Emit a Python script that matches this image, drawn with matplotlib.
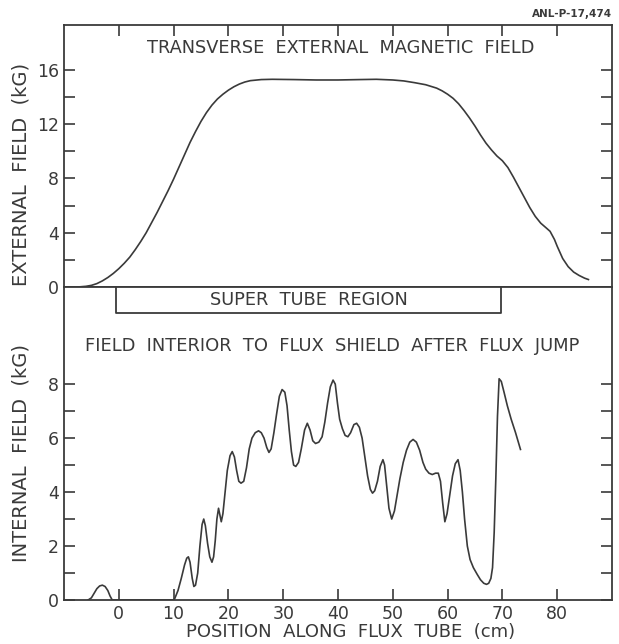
import matplotlib
matplotlib.use("Agg")
import matplotlib.pyplot as plt

plt.rcParams['font.family'] = ['DejaVu Sans']

# ---- data: external (transverse) magnetic field, kG vs position (cm)
ext_x = [-7.5, -6, -5, -4, -3, -2, -1, 0, 1, 2, 3, 4, 5, 6, 7, 8, 9, 10, 11, 12,
         13, 14, 15, 16, 17, 18, 19, 20, 21, 22, 23, 24, 26, 28, 32, 36, 40, 44,
         47, 50, 52, 54, 56, 58, 59, 60, 61, 62, 63, 64, 65, 66, 67, 68, 69, 70,
         71, 72, 73, 74, 75, 76, 77, 78, 78.7, 79.5, 80, 81, 82, 83, 84, 85, 85.7]
ext_y = [0, 0.05, 0.12, 0.25, 0.45, 0.7, 1.0, 1.35, 1.75, 2.2, 2.75, 3.35, 4.0,
         4.75, 5.5, 6.3, 7.1, 7.95, 8.85, 9.75, 10.65, 11.45, 12.2, 12.85, 13.4,
         13.85, 14.2, 14.5, 14.75, 14.95, 15.1, 15.2, 15.28, 15.3, 15.28, 15.25,
         15.25, 15.28, 15.3, 15.25, 15.18, 15.05, 14.9, 14.65, 14.45, 14.2, 13.9,
         13.5, 13.0, 12.45, 11.85, 11.2, 10.6, 10.1, 9.65, 9.3, 8.8, 8.1, 7.35,
         6.6, 5.85, 5.2, 4.7, 4.35, 4.1, 3.5, 3.0, 2.1, 1.5, 1.1, 0.85, 0.65, 0.55]

# ---- data: internal field after flux jump, kG vs position (cm)
int_x = [-5.6, -5.0, -4.5, -4.0, -3.5, -3.0, -2.5, -2.0, -1.6, -1.2, 10.0,
         10.2, 10.8, 11.4, 12.0, 12.4, 12.7, 13.0, 13.4, 13.7, 14.0, 14.4, 14.8,
         15.2, 15.5, 15.8, 16.2, 16.6, 17.0, 17.3, 17.6, 17.9, 18.2, 18.5, 18.7,
         19.0, 19.4, 19.8, 20.3, 20.7, 21.1, 21.5, 21.9, 22.3, 22.8, 23.3, 23.8,
         24.3, 24.9, 25.5, 26.0, 26.5, 27.0, 27.4, 27.8, 28.3, 28.8, 29.3, 29.8,
         30.3, 30.7, 31.1, 31.5, 31.9, 32.3, 32.8, 33.3, 33.9, 34.4, 34.9, 35.4,
         35.9, 36.5, 37.1, 37.6, 38.1, 38.6, 39.1, 39.5, 39.9, 40.3, 40.8, 41.3,
         41.8, 42.3, 42.9, 43.4, 43.9, 44.4, 44.9, 45.4, 45.9, 46.3, 46.7, 47.2,
         47.7, 48.2, 48.5, 48.9, 49.3, 49.8, 50.3, 50.8, 51.3, 51.9, 52.5, 53.1,
         53.7, 54.3, 54.9, 55.5, 56.0, 56.6, 57.2, 57.8, 58.3, 58.7, 59.1, 59.5,
         59.9, 60.4, 60.9, 61.4, 61.9, 62.3, 62.7, 63.1, 63.6, 64.1, 64.7, 65.4,
         66.0, 66.6, 67.1, 67.5, 67.9, 68.2, 68.5, 68.8, 69.1, 69.4, 69.8, 70.3,
         70.9, 71.6, 72.4, 73.3]
int_y = [0, 0.08, 0.25, 0.42, 0.52, 0.55, 0.5, 0.35, 0.15, 0, 0,
         0.05, 0.35, 0.8, 1.3, 1.55, 1.6, 1.4, 0.8, 0.5, 0.55, 1.0, 2.0,
         2.8, 3.0, 2.75, 2.1, 1.6, 1.4, 1.6, 2.2, 3.0, 3.4, 3.1, 2.9,
         3.2, 4.0, 4.8, 5.35, 5.5, 5.3, 4.8, 4.4, 4.33, 4.4, 4.9, 5.6,
         6.0, 6.2, 6.27, 6.2, 6.0, 5.65, 5.47, 5.6, 6.2, 6.9, 7.55, 7.8,
         7.7, 7.2, 6.3, 5.5, 5.0, 4.95, 5.1, 5.6, 6.3, 6.55, 6.3, 5.9,
         5.8, 5.85, 6.05, 6.6, 7.3, 7.9, 8.15, 8.0, 7.3, 6.7, 6.35, 6.1,
         6.05, 6.2, 6.5, 6.55, 6.4, 6.0, 5.3, 4.6, 4.1, 3.96, 4.05, 4.4,
         4.95, 5.2, 5.0, 4.2, 3.4, 3.0, 3.3, 3.9, 4.5, 5.1, 5.55, 5.85,
         5.95, 5.85, 5.55, 5.1, 4.85, 4.7, 4.65, 4.7, 4.7, 4.4, 3.6, 2.9,
         3.2, 3.9, 4.6, 5.05, 5.2, 4.8, 4.0, 3.0, 2.0, 1.5, 1.2, 0.95,
         0.75, 0.62, 0.58, 0.62, 0.8, 1.2, 2.5, 4.5, 6.8, 8.2, 8.1, 7.7,
         7.2, 6.7, 6.2, 5.58]

x_ticks = [0, 10, 20, 30, 40, 50, 60, 70, 80]
ext_yticks_major = [0, 4, 8, 12, 16]
ext_yticks_minor = [2, 6, 10, 14]
int_yticks_major = [0, 2, 4, 6, 8]
int_yticks_minor = [1, 3, 5, 7]

region_x = [-0.5, 69.8]
region_label = "SUPER  TUBE  REGION"

ink = "#3a3a3a"
W, H = 619, 644
fig = plt.figure(figsize=(W / 100, H / 100), dpi=100)

L = 64 / W
R = 612 / W
ax1 = fig.add_axes([L, (644 - 287) / H, R - L, (287 - 25) / H])
ax2 = fig.add_axes([L, (644 - 600) / H, R - L, (600 - 287) / H])

for ax in (ax1, ax2):
    ax.set_xlim(-10, 90)
    for s in ax.spines.values():
        s.set_color(ink)
        s.set_linewidth(1.3)
    ax.tick_params(which='both', direction='in', length=8, width=1.2,
                   color=ink, labelcolor=ink, labelsize=12.5)

# ---- top panel
ax1.set_ylim(0, 19.3)
ax1.plot(ext_x, ext_y, color=ink, lw=1.2)
ax1.set_xticks(x_ticks)
ax1.tick_params(axis='x', bottom=False, top=True, labelbottom=False)
ax1.set_yticks(ext_yticks_major)
ax1.set_yticks(ext_yticks_minor, minor=True)
ax1.tick_params(axis='y', which='both', left=True, right=True, labelright=False)
ax1.set_ylabel("EXTERNAL  FIELD  (kG)", fontsize=14, color=ink)
ax1.yaxis.set_label_coords(-0.062, 0.43)
ax1.text(40.5, 17.6, "TRANSVERSE  EXTERNAL  MAGNETIC  FIELD", ha='center', va='center',
         fontsize=12.8, color=ink)
fig.text(612 / W, 1 - 14 / H, "ANL-P-17,474", ha='right', va='center',
         fontsize=7.5, fontweight='bold', color=ink)

# ---- bottom panel
ax2.set_ylim(0, 11.6)
ax2.plot(int_x, int_y, color=ink, lw=1.2)
ax2.set_xticks(x_ticks)
ax2.tick_params(axis='x', top=False, bottom=True)
ax2.set_yticks(int_yticks_major)
ax2.set_yticks(int_yticks_minor, minor=True)
ax2.tick_params(axis='y', which='both', left=True, right=True, labelright=False)
ax2.set_ylabel("INTERNAL  FIELD  (kG)", fontsize=14, color=ink)
ax2.yaxis.set_label_coords(-0.062, 0.47)
fig.text(351 / W, 1 - 632 / H, "POSITION  ALONG  FLUX  TUBE  (cm)", ha='center',
         va='center', fontsize=13, color=ink)
ax2.text(39, 9.4, "FIELD  INTERIOR  TO  FLUX  SHIELD  AFTER  FLUX  JUMP", ha='center',
         va='center', fontsize=12.9, color=ink)

# super tube region box
box_bottom = 10.63
ax2.plot([region_x[0], region_x[0], region_x[1], region_x[1]],
         [11.6, box_bottom, box_bottom, 11.6], color=ink, lw=1.3, clip_on=False)
ax2.text((region_x[0] + region_x[1]) / 2, (box_bottom + 11.6) / 2, region_label,
         ha='center', va='center', fontsize=12.8, color=ink)

fig.savefig("out.png", dpi=100)
